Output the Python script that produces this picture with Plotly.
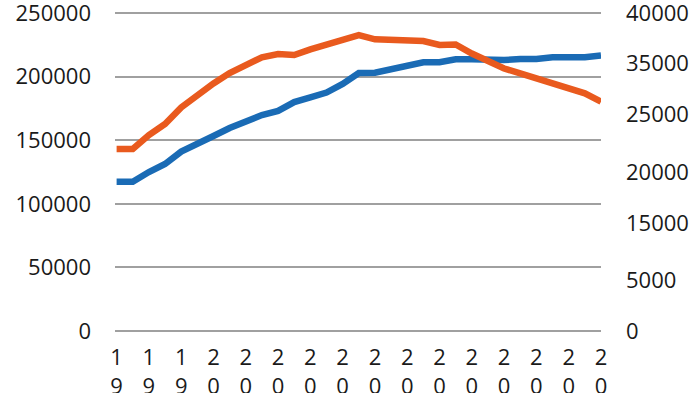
import plotly.graph_objects as go

years = list(range(1994, 2025))
tick_years = years[::2]
tick_labels = ["<br>".join(str(y)) for y in tick_years]

blue_values = [117400, 117400, 125000, 131300, 141000, 147800, 153300, 159600,
               164700, 169800, 173000, 180000, 183600, 187500, 194200, 202800,
               203000, 205600, 209100, 211300, 211300, 213600, 213600, 212700,
               213000, 213800, 213800, 215200, 215200, 215200, 216600]
orange_values = [22900, 22900, 24650, 26040, 28120, 29750, 31140, 32450,
                 33520, 34430, 34840, 34720, 35430, 36100, 36730, 37230,
                 36690, 36600, 36480, 36480, 35980, 36040, 34910, 33880,
                 33020, 32420, 31790, 31200, 30400, 29900, 28840]

left_ticks = [0, 50000, 100000, 150000, 200000, 250000]
right_tick_text = ["0", "5000", "15000", "20000", "25000", "35000", "40000"]
right_tick_positions = [0, 6400, 13600, 20000, 27200, 33700, 40000]

BLUE = "#1a6bb5"
ORANGE = "#e95a1e"
FONT = "Open Sans"

fig = go.Figure()
fig.add_trace(go.Scatter(x=years, y=blue_values, mode="lines",
                         line=dict(color=BLUE, width=6.5), yaxis="y"))
fig.add_trace(go.Scatter(x=years, y=orange_values, mode="lines",
                         line=dict(color=ORANGE, width=6.5), yaxis="y2"))

fig.update_layout(
    width=700, height=393,
    margin=dict(l=115, r=99, t=12, b=61),
    paper_bgcolor="white", plot_bgcolor="white",
    showlegend=False,
    font=dict(family=FONT, size=22, color="#1a1a1a"),
    xaxis=dict(range=[1993.9, 2024], tickvals=tick_years, ticktext=tick_labels,
               showgrid=False, zeroline=False, showline=False, ticks="",
               tickangle=0, ticklabelstandoff=10, automargin=False,
               ticklabeloverflow="allow",
               tickfont=dict(family=FONT, size=22, color="#1a1a1a")),
    yaxis=dict(range=[-800, 250800], tickvals=left_ticks,
               ticktext=[str(v) for v in left_ticks],
               showgrid=True, gridcolor="#a0a0a0", gridwidth=1.5,
               zeroline=False, showline=False, ticks="",
               ticklabelstandoff=23, automargin=False,
               ticklabeloverflow="allow",
               tickfont=dict(family=FONT, size=22, color="#1a1a1a")),
    yaxis2=dict(range=[-128, 40128], overlaying="y", side="right",
                tickvals=right_tick_positions, ticktext=right_tick_text,
                showgrid=False, zeroline=False, showline=False, ticks="",
                ticklabelstandoff=24, automargin=False,
                ticklabeloverflow="allow",
                tickfont=dict(family=FONT, size=22, color="#1a1a1a")),
)

fig.write_html("out.html", config={"displayModeBar": False},
               post_script="document.body.style.margin='0';document.body.style.padding='0';")
